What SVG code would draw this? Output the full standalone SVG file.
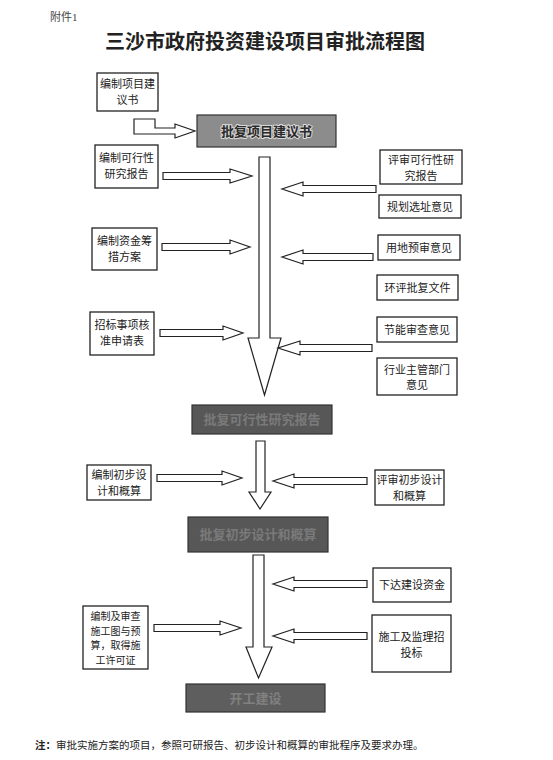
<svg xmlns="http://www.w3.org/2000/svg" width="553" height="760" viewBox="0 0 553 760">
<style>
.bx{fill:#fff;stroke:#222;stroke-width:1.3}
.ar{fill:#fff;stroke:#222;stroke-width:1.2;stroke-linejoin:miter}
.t{font-family:"Noto Sans CJK SC","Noto Sans",sans-serif;font-size:11px;fill:#222;text-anchor:middle}
.s{font-size:10px}
.dk{stroke:#333;stroke-width:1.2}
.dt{font-family:"Noto Sans CJK SC","Noto Sans",sans-serif;font-size:13px;font-weight:bold;text-anchor:middle}
</style>
<rect width="553" height="760" fill="#fff"/>
<text x="50" y="21" font-family="'Liberation Serif','Noto Sans CJK SC',serif" font-size="11" fill="#444">附件1</text>
<text x="265" y="49" font-family="'Noto Sans CJK SC',sans-serif" font-size="20" font-weight="bold" fill="#222" text-anchor="middle">三沙市政府投资建设项目审批流程图</text>

<g id="connectors">
<polygon class="ar" points="134,119 155,119 155,128 175,128 175,124 195,131 175,138 175,134 134,134"/>
<polygon class="ar" points="259,157 270,157 270,338 281,338 264.5,395 248,338 259,338"/>
<polygon class="ar" points="163,172.5 230,172.5 230,169 252,176 230,183 230,179.5 163,179.5"/>
<polygon class="ar" points="162,243.5 230,243.5 230,240 250,247 230,254 230,250.5 162,250.5"/>
<polygon class="ar" points="160,329.5 223,329.5 223,326 243,333 223,340 223,336.5 160,336.5"/>
<polygon class="ar" points="376,185.5 303,185.5 303,182 282,189 303,196 303,192.5 376,192.5"/>
<polygon class="ar" points="373,253.5 303,253.5 303,250 282,257 303,264 303,260.5 373,260.5"/>
<polygon class="ar" points="372,344.5 300,344.5 300,341 278,348 300,355 300,351.5 372,351.5"/>
<polygon class="ar" points="256,441 265,441 265,492 271,492 260,509 249,492 256,492"/>
<polygon class="ar" points="157,474.5 222,474.5 222,471 242,478 222,485 222,481.5 157,481.5"/>
<polygon class="ar" points="367,477.5 294,477.5 294,474 273,481 294,488 294,484.5 367,484.5"/>
<polygon class="ar" points="253,555 264,555 264,647 272,647 258.5,678 246,647 253,647"/>
<polygon class="ar" points="367,580.5 294,580.5 294,577 273,584 294,591 294,587.5 367,587.5"/>
<polygon class="ar" points="367,632.5 294,632.5 294,629 273,636 294,643 294,639.5 367,639.5"/>
<polygon class="ar" points="154,624.5 220,624.5 220,621 241,628 220,635 220,631.5 154,631.5"/>
</g>

<g id="n1"><rect class="bx" x="97" y="73" width="61" height="38"/><text class="t" x="127.5" y="88">编制项目建</text><text class="t" x="127.5" y="104">议书</text></g>
<g id="d1"><rect class="dk" x="197" y="115" width="139" height="32" fill="#8c8c8c"/><text class="dt" x="266.5" y="136" fill="#2a2a2a" stroke="#d8d8d8" stroke-width="2" paint-order="stroke">批复项目建议书</text></g>
<g id="n2"><rect class="bx" x="95" y="145" width="63" height="43"/><text class="t" x="126.5" y="162">编制可行性</text><text class="t" x="126.5" y="178">研究报告</text></g>
<g id="n3"><rect class="bx" x="92" y="228" width="65" height="42"/><text class="t" x="124.5" y="245">编制资金筹</text><text class="t" x="124.5" y="261">措方案</text></g>
<g id="n4"><rect class="bx" x="90" y="312" width="64" height="43"/><text class="t" x="122" y="329">招标事项核</text><text class="t" x="122" y="345">准申请表</text></g>
<g id="r1"><rect class="bx" x="380" y="150" width="82" height="34"/><text class="t" x="421" y="164">评审可行性研</text><text class="t" x="421" y="180">究报告</text></g>
<g id="r2"><rect class="bx" x="379" y="195" width="82" height="23"/><text class="t" x="420" y="211">规划选址意见</text></g>
<g id="r3"><rect class="bx" x="378" y="235" width="82" height="25"/><text class="t" x="419" y="252">用地预审意见</text></g>
<g id="r4"><rect class="bx" x="377" y="275" width="81" height="25"/><text class="t" x="417.5" y="292">环评批复文件</text></g>
<g id="r5"><rect class="bx" x="377" y="317" width="80" height="25"/><text class="t" x="417" y="334">节能审查意见</text></g>
<g id="r6"><rect class="bx" x="377" y="358" width="80" height="37"/><text class="t" x="417" y="374">行业主管部门</text><text class="t" x="417" y="389">意见</text></g>
<g id="d2"><rect class="dk" x="192" y="405" width="140" height="29" fill="#575757"/><text class="dt" x="262" y="424" fill="#7a7a7a">批复可行性研究报告</text></g>
<g id="n5"><rect class="bx" x="87" y="465" width="64" height="35"/><text class="t" x="119" y="479">编制初步设</text><text class="t" x="119" y="495">计和概算</text></g>
<g id="r7"><rect class="bx" x="375" y="470" width="69" height="35"/><text class="t" x="409.5" y="484">评审初步设计</text><text class="t" x="409.5" y="500">和概算</text></g>
<g id="d3"><rect class="dk" x="188" y="517" width="140" height="35" fill="#575757"/><text class="dt" x="258" y="539" fill="#7a7a7a">批复初步设计和概算</text></g>
<g id="r8"><rect class="bx" x="373" y="568" width="78" height="34"/><text class="t" x="412" y="589">下达建设资金</text></g>
<g id="r9"><rect class="bx" x="372" y="615" width="79" height="57"/><text class="t" x="411.5" y="641">施工及监理招</text><text class="t" x="411.5" y="657">投标</text></g>
<g id="n6"><rect class="bx" x="83" y="606" width="65" height="63"/><text class="t s" x="115.5" y="620">编制及审查</text><text class="t s" x="115.5" y="634.5">施工图与预</text><text class="t s" x="115.5" y="649">算，取得施</text><text class="t s" x="115.5" y="663.5">工许可证</text></g>
<g id="d4"><rect class="dk" x="186" y="684" width="139" height="28" fill="#5e5e5e"/><text class="dt" x="255.5" y="703" fill="#808080">开工建设</text></g>

<text x="35" y="749" font-family="'Noto Sans CJK SC',sans-serif" font-size="10.5" fill="#222"><tspan font-weight="bold">注：</tspan>审批实施方案的项目，参照可研报告、初步设计和概算的审批程序及要求办理。</text>
</svg>
